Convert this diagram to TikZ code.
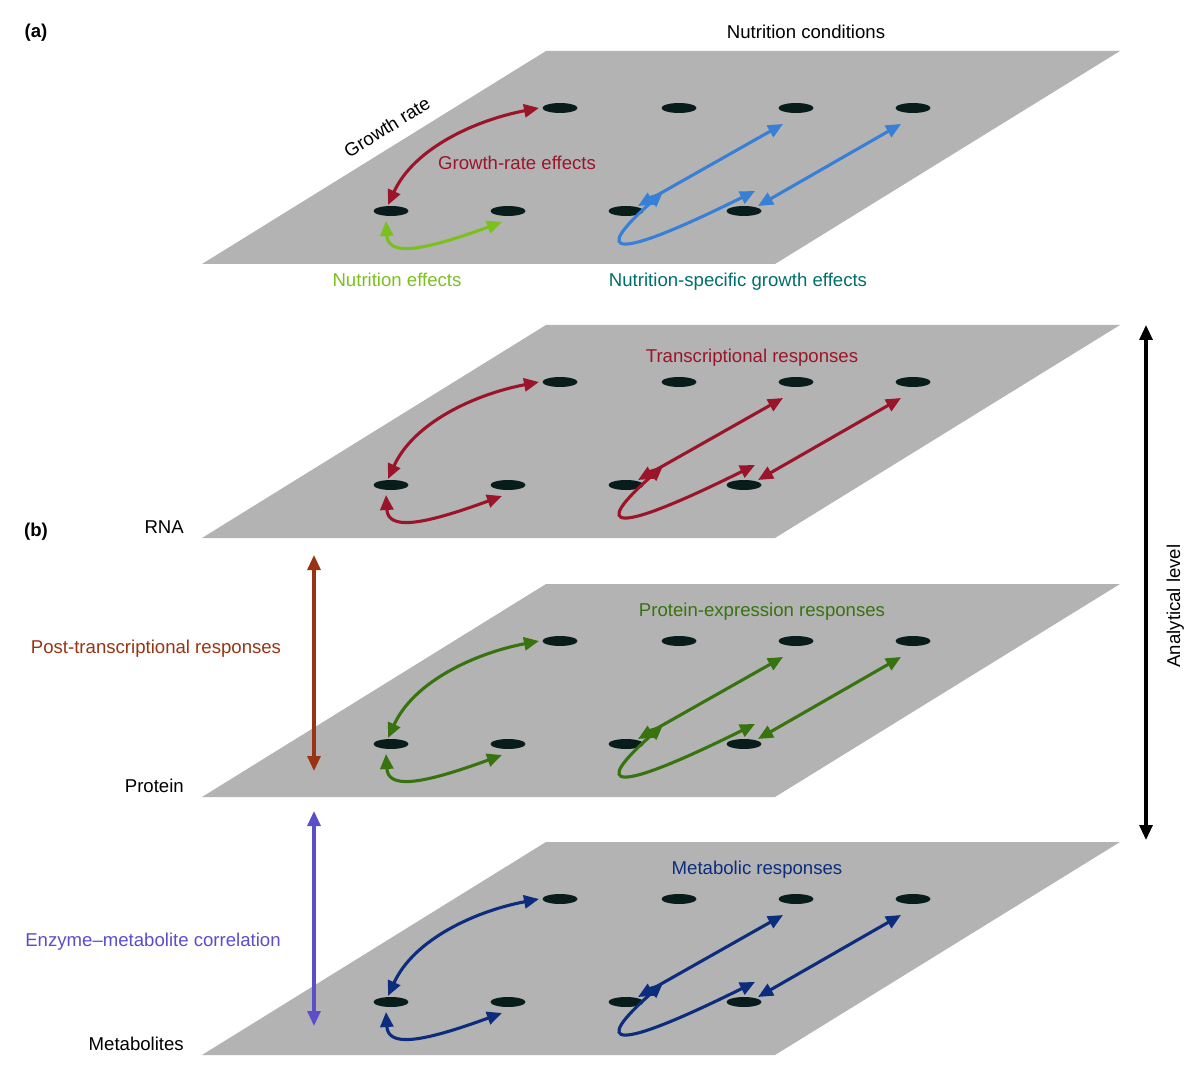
\documentclass[tikz,border=0pt]{standalone}
\usepackage{fontspec}
\setmainfont{Liberation Sans}
\usetikzlibrary{arrows.meta,shapes.geometric}
\definecolor{planec}{RGB}{179,179,179}
\definecolor{dotc}{RGB}{8,28,28}
\definecolor{gred}{RGB}{155,21,42}
\definecolor{ngreen}{RGB}{122,193,30}
\definecolor{nblue}{RGB}{56,128,214}
\definecolor{nteal}{RGB}{0,110,110}
\definecolor{pgreen}{RGB}{55,115,15}
\definecolor{mnavy}{RGB}{12,45,125}
\definecolor{pbrown}{RGB}{152,52,20}
\definecolor{epurple}{RGB}{92,78,200}
\newcommand\myplane[5]{%
\begin{scope}[yshift=-#1pt]
  \fill[planec] (202,264) -- (775,264) -- (1120,51) -- (546,51) -- cycle;
  \node[dotn] (#2b1) at (560,108) {};
  \node[dotn] (#2b2) at (679,108) {};
  \node[dotn] (#2b3) at (796,108) {};
  \node[dotn] (#2b4) at (913,108) {};
  \node[dotn] (#2f1) at (391,211) {};
  \node[dotn] (#2f2) at (508,211) {};
  \node[dotn] (#2f3) at (626,211) {};
  \node[dotn] (#2f4) at (744,211) {};
  \coordinate (#2r1) at (539,108);
  \coordinate (#2r2) at (388,205);
  \coordinate (#2g1) at (386,221);
  \coordinate (#2g2) at (502,222);
  \coordinate (#2s1) at (638,206);
  \coordinate (#2s2) at (783,124);
  \coordinate (#2t1) at (758,206);
  \coordinate (#2t2) at (901,124);
  \coordinate (#2l1) at (663,192);
  \coordinate (#2l2) at (755,191);
  \draw[arr,#3] (#2r1) .. controls (476,120) and (414,148) .. (#2r2);
  \draw[arr,#4] (#2g1) .. controls (388,256) and (420,252) .. (#2g2);
  \draw[arr,#5] (#2s1) -- (#2s2);
  \draw[arr,#5] (#2t1) -- (#2t2);
  \draw[arr,#5] (#2l1) .. controls (590,256) and (612,262) .. (#2l2);
\end{scope}}
\begin{document}
\begin{tikzpicture}[x=1pt,y=-1pt,
  dotn/.style={ellipse, fill=dotc, minimum width=35pt, minimum height=10pt, inner sep=0pt},
  arr/.style={line width=3.1pt, {Triangle[length=15pt,width=13pt]}-{Triangle[length=15pt,width=13pt]}},
  lbl/.style={font=\fontsize{18.6}{22}\selectfont, inner sep=0pt, anchor=base}]
\useasboundingbox (0,0) rectangle (1200,1091);
\myplane{0}{A}{gred}{ngreen}{nblue}
\myplane{274}{R}{gred}{gred}{gred}
\myplane{533}{P}{pgreen}{pgreen}{pgreen}
\myplane{791}{M}{mnavy}{mnavy}{mnavy}
% labels
\node[lbl] (la) at (36,38) {\textbf{(a)}};
\node[lbl] (nc) at (806,38.7) {Nutrition conditions};
\node[lbl,anchor=center,rotate=31.8] (gr) at (387,127) {Growth rate};
\node[lbl,text=gred] (gre) at (517,169.7) {Growth-rate effects};
\node[lbl,text=ngreen] (ne) at (397,286.7) {Nutrition effects};
\node[lbl,text=nteal] (nsge) at (738,286.7) {Nutrition-specific growth effects};
\node[lbl,text=gred] (tr) at (752,362.7) {Transcriptional responses};
\node[lbl] (lb) at (36,536) {\textbf{(b)}};
\node[lbl,anchor=base east] (rna) at (184,533.7) {RNA};
\node[lbl,text=pbrown] (ptr) at (156,653.7) {Post-transcriptional responses};
\node[lbl,text=pgreen] (per) at (762,616.7) {Protein-expression responses};
\node[lbl,anchor=base east] (prot) at (184,792.7) {Protein};
\node[lbl,text=mnavy] (mr) at (757,874.7) {Metabolic responses};
\node[lbl,text=epurple] (emc) at (153,946.7) {Enzyme–metabolite correlation};
\node[lbl,anchor=base east] (met) at (184,1050.7) {Metabolites};
\node[lbl,rotate=90] (al) at (1180,606) {Analytical level};
% vertical arrows
\coordinate (ptA) at (314,555);
\coordinate (ptB) at (314,771);
\coordinate (emA) at (314,811);
\coordinate (emB) at (314,1026);
\coordinate (alA) at (1146,325);
\coordinate (alB) at (1146,840);
\draw[arr,pbrown] (ptA) -- (ptB);
\draw[arr,epurple] (emA) -- (emB);
\draw[arr,black] (alA) -- (alB);
\end{tikzpicture}
\end{document}
